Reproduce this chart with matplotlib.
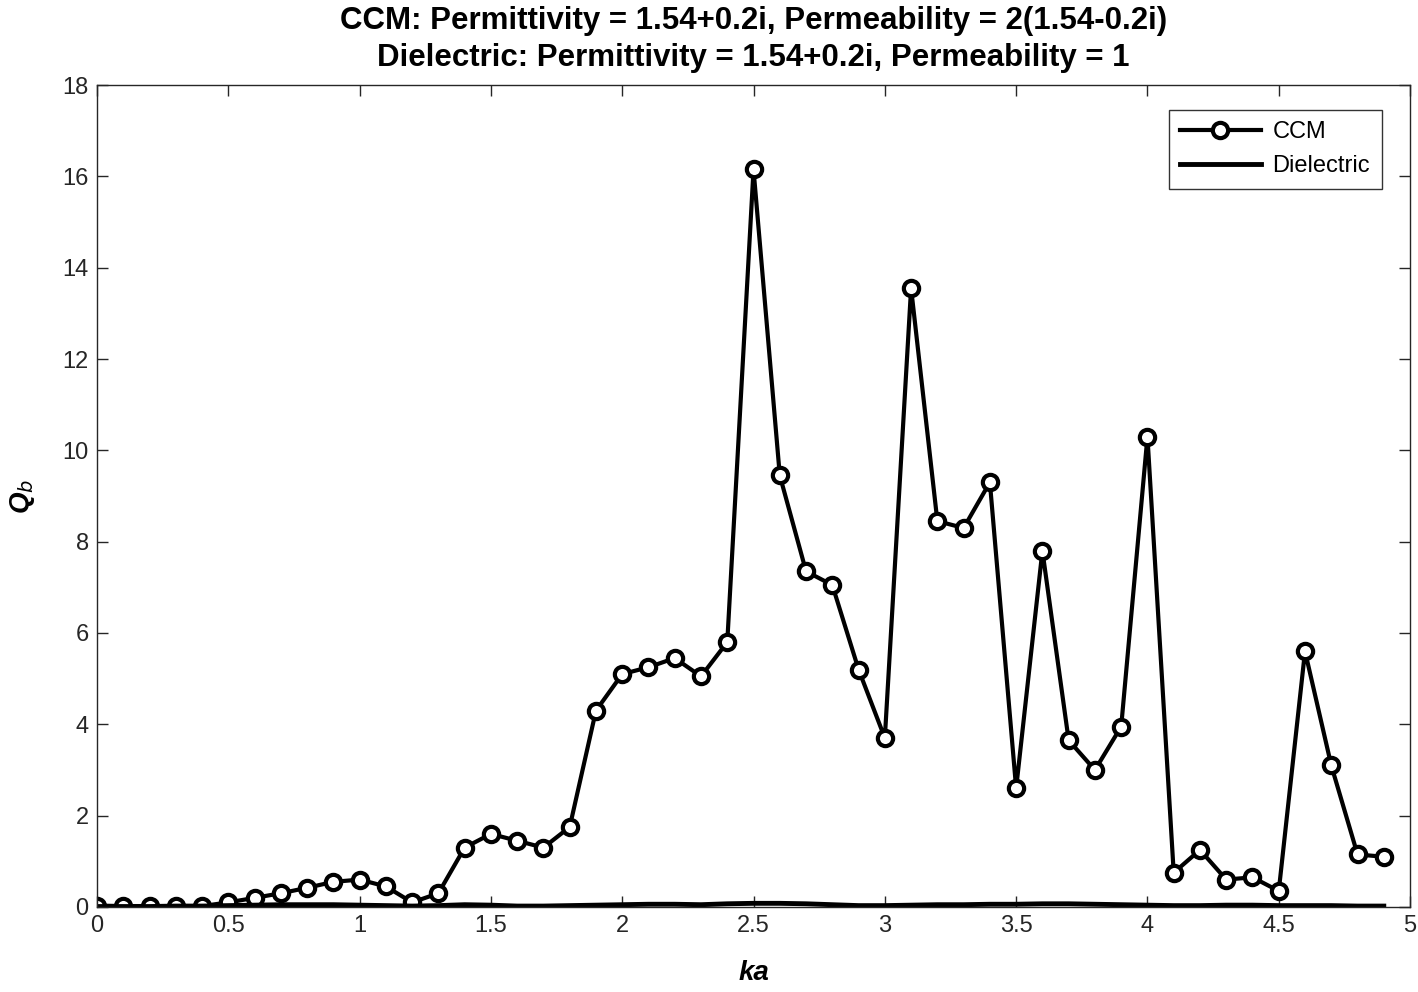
import numpy as np
import matplotlib
matplotlib.use("Agg")
import matplotlib.pyplot as plt

plt.rcParams['font.family'] = ['Liberation Sans', 'DejaVu Sans']

# data
ka = [round(0.1 * i, 1) for i in range(50)]
ccm = [0.03, 0.02, 0.02, 0.02, 0.02, 0.1, 0.2, 0.3, 0.42, 0.55,
       0.6, 0.45, 0.1, 0.3, 1.3, 1.6, 1.45, 1.3, 1.75, 4.3,
       5.1, 5.25, 5.45, 5.05, 5.8, 16.15, 9.45, 7.35, 7.05, 5.2,
       3.7, 13.55, 8.45, 8.3, 9.3, 2.6, 7.8, 3.65, 3.0, 3.95,
       10.3, 0.75, 1.25, 0.6, 0.65, 0.35, 5.6, 3.1, 1.15, 1.1]
dielectric = [0.01, 0.01, 0.01, 0.02, 0.02, 0.03, 0.04, 0.05, 0.05, 0.05,
              0.04, 0.03, 0.02, 0.03, 0.05, 0.04, 0.02, 0.02, 0.03, 0.04,
              0.05, 0.06, 0.06, 0.05, 0.07, 0.08, 0.08, 0.07, 0.05, 0.03,
              0.03, 0.04, 0.05, 0.05, 0.06, 0.06, 0.07, 0.07, 0.06, 0.05,
              0.04, 0.03, 0.03, 0.04, 0.04, 0.03, 0.03, 0.03, 0.02, 0.02]

fig = plt.figure(figsize=(14.18, 9.92), dpi=100)
ax = fig.add_axes([0.0684, 0.0857, 0.926, 0.8286])

ax.plot(ka, ccm, color='black', lw=3, marker='o', ms=11,
        mfc='white', mec='black', mew=3, label='CCM')
ax.plot(ka, dielectric, color='black', lw=3.5, label='Dielectric')

ax.set_xlim(0, 5)
ax.set_ylim(0, 18)
ax.set_xticks(np.arange(0, 5.01, 0.5))
ax.set_xticklabels(['0', '0.5', '1', '1.5', '2', '2.5', '3', '3.5', '4', '4.5', '5'])
ax.set_yticks(np.arange(0, 18.1, 2))
ax.tick_params(direction='in', top=True, right=True, length=8, width=1,
               labelsize=17, colors='#262626', pad=6)
for s in ax.spines.values():
    s.set_linewidth(1)
    s.set_color('#262626')

ax.set_xlabel('ka', fontsize=20, fontweight='bold', fontstyle='italic', labelpad=16)
ax.set_ylabel('Q$_{\\bf\\it b}$', fontsize=20,
              fontweight='bold', fontstyle='italic', labelpad=18)
ax.set_title('CCM: Permittivity = 1.54+0.2i, Permeability = 2(1.54-0.2i)\n'
             'Dielectric: Permittivity = 1.54+0.2i, Permeability = 1',
             fontsize=22.5, fontweight='bold', linespacing=1.3, pad=14)

leg = ax.legend(loc='upper right', fontsize=17, frameon=True, fancybox=False,
                edgecolor='black', borderaxespad=0, handlelength=3.4,
                handletextpad=0.5, borderpad=0.5,
                bbox_to_anchor=(0.9785, 0.97))
leg.get_frame().set_linewidth(1)

plt.savefig('out.png', dpi=100)
